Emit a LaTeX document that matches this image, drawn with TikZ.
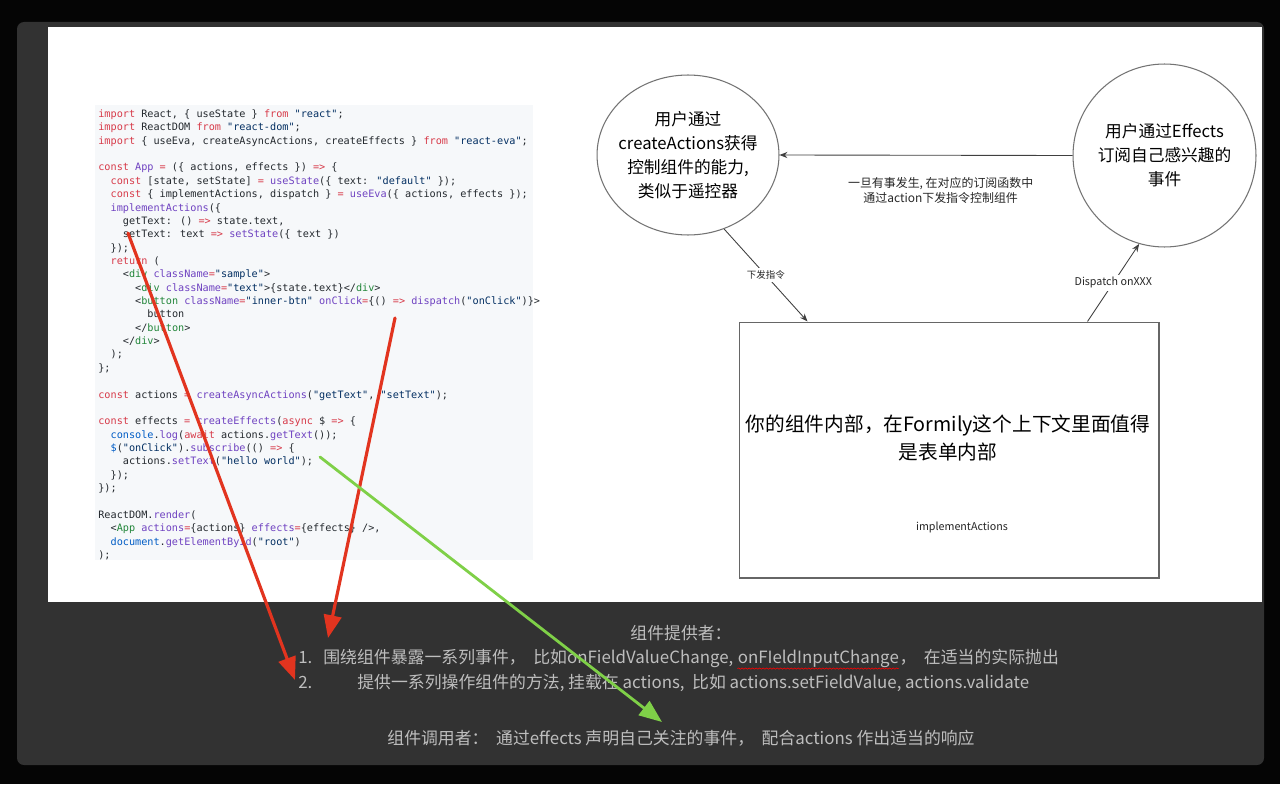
\documentclass[tikz,border=0pt]{standalone}
\usepackage{fontspec}
\setmainfont{Noto Sans CJK SC}
\newfontfamily\codefont{DejaVu Sans Mono}
\usetikzlibrary{arrows.meta,shapes.geometric,calc,decorations.pathmorphing}
\definecolor{panelcol}{HTML}{323232}
\definecolor{notecol}{HTML}{BEBEBE}
\definecolor{codebg}{HTML}{F6F8FA}
\definecolor{plaincol}{HTML}{24292E}
\definecolor{kwcol}{HTML}{D73A49}
\definecolor{fncol}{HTML}{6F42C1}
\definecolor{strcol}{HTML}{032F62}
\definecolor{tagcol}{HTML}{22863A}
\definecolor{objcol}{HTML}{005CC5}
\definecolor{markred}{HTML}{E2341F}
\definecolor{markgreen}{HTML}{7FD048}
\newcommand\ckw[1]{\textcolor{kwcol}{#1}}
\newcommand\cfn[1]{\textcolor{fncol}{#1}}
\newcommand\cstr[1]{\textcolor{strcol}{#1}}
\newcommand\ctag[1]{\textcolor{tagcol}{#1}}
\newcommand\cobj[1]{\textcolor{objcol}{#1}}
\newcommand\codeline[3]{\node[codetxt] (cl#1) at ({98+#2*6.14},{117.5+#1*13.36}) {#3};}
\tikzset{
  codetxt/.style={anchor=base west,inner sep=0,text=plaincol,font=\codefont\fontsize{5.8}{7}\selectfont},
  bubble/.style={draw=black!55,line width=.6pt,inner sep=0},
  bubtxt/.style={align=center,inner sep=0,font=\fontsize{9.5}{13.6}\selectfont},
  lbl/.style={inner sep=1.5pt,fill=white,text=black!85,font=\fontsize{6.1}{8.5}\selectfont},
  conn/.style={draw=black!75,line width=.5pt,-{Stealth[length=4.5pt,width=3.5pt]}},
  note/.style={inner sep=0,text=notecol,font=\fontsize{9.6}{11}\selectfont},
  redmark/.style={draw=markred,line width=1.8pt,line cap=round,-{Triangle[length=13pt,width=10pt]}},
  greenmark/.style={draw=markgreen,line width=1.6pt,line cap=round,-{Triangle[length=13pt,width=10pt]}},
  spell/.style={draw=red,line width=.35pt,decorate,decoration={snake,amplitude=.35pt,segment length=2pt}}
}
\begin{document}
\begin{tikzpicture}[x=0.02cm,y=-0.02cm]
\useasboundingbox (0,0) rectangle (1280,784);
\fill[black!98] (0,0) rectangle (1280,784);
\fill[panelcol,rounded corners=4pt] (17,22) rectangle (1264,765);
\fill[white] (48,27) rectangle (1262,602);
\fill[codebg] (95,105) rectangle (533,560);

\codeline{0}{0}{\ckw{import} React, \{ useState \} \ckw{from} \cstr{"react"};}
\codeline{1}{0}{\ckw{import} ReactDOM \ckw{from} \cstr{"react-dom"};}
\codeline{2}{0}{\ckw{import} \{ useEva, createAsyncActions, createEffects \} \ckw{from} \cstr{"react-eva"};}
\codeline{4}{0}{\ckw{const} \cfn{App} \ckw{=} (\{ actions, effects \}) \ckw{=>} \{}
\codeline{5}{2}{\ckw{const} [state, setState] \ckw{=} \cfn{useState}(\{ text: \cstr{"default"} \});}
\codeline{6}{2}{\ckw{const} \{ implementActions, dispatch \} \ckw{=} \cfn{useEva}(\{ actions, effects \});}
\codeline{7}{2}{\cfn{implementActions}(\{}
\codeline{8}{4}{getText: () \ckw{=>} state.text,}
\codeline{9}{4}{setText: text \ckw{=>} \cfn{setState}(\{ text \})}
\codeline{10}{2}{\});}
\codeline{11}{2}{\ckw{return} (}
\codeline{12}{4}{<\ctag{div} \cfn{className}\ckw{=}\cstr{"sample"}>}
\codeline{13}{6}{<\ctag{div} \cfn{className}\ckw{=}\cstr{"text"}>\{state.text\}</\ctag{div}>}
\codeline{14}{6}{<\ctag{button} \cfn{className}\ckw{=}\cstr{"inner-btn"} \cfn{onClick}\ckw{=}\{() \ckw{=>} \cfn{dispatch}(\cstr{"onClick"})\}>}
\codeline{15}{8}{button}
\codeline{16}{6}{</\ctag{button}>}
\codeline{17}{4}{</\ctag{div}>}
\codeline{18}{2}{);}
\codeline{19}{0}{\};}
\codeline{21}{0}{\ckw{const} actions \ckw{=} \cfn{createAsyncActions}(\cstr{"getText"}, \cstr{"setText"});}
\codeline{23}{0}{\ckw{const} effects \ckw{=} \cfn{createEffects}(\ckw{async} \$ \ckw{=>} \{}
\codeline{24}{2}{\cobj{console}.\cfn{log}(\ckw{await} actions.\cfn{getText}());}
\codeline{25}{2}{\cobj{\$}(\cstr{"onClick"}).\cfn{subscribe}(() \ckw{=>} \{}
\codeline{26}{4}{actions.\cfn{setText}(\cstr{"hello world"});}
\codeline{27}{2}{\});}
\codeline{28}{0}{\});}
\codeline{30}{0}{ReactDOM.\cfn{render}(}
\codeline{31}{2}{<\ctag{App} \cfn{actions}\ckw{=}\{actions\} \cfn{effects}\ckw{=}\{effects\} />,}
\codeline{32}{2}{\cobj{document}.\cfn{getElementById}(\cstr{"root"})}
\codeline{33}{0}{);}

\node[bubble,ellipse,minimum width=3.64cm,minimum height=3.2cm] (lc) at (688,155) {};
\node[bubtxt] (lctxt) at (lc) {用户通过\\createActions获得\\控制组件的能力,\\类似于遥控器};
\node[bubble,circle,minimum size=3.66cm] (rc) at (1164.5,155.5) {};
\node[bubtxt] (rctxt) at (rc) {用户通过Effects\\订阅自己感兴趣的\\事件};
\node[draw=black!60,line width=.6pt,minimum width=8.4cm,minimum height=5.12cm] (box) at (949,450) {};
\node[align=center,inner sep=0,font=\fontsize{11.2}{15.9}\selectfont] (boxtxt) at (948,438) {你的组件内部，在Formily这个上下文里面值得\\是表单内部};
\node[lbl,fill=none] (impl) at (962,527) {implementActions};

\draw[conn] (rc.west) -- node[lbl,pos=.45,below=0.38cm,align=center,font=\fontsize{6.8}{8.5}\selectfont] (sub) {一旦有事发生, 在对应的订阅函数中\\通过action下发指令控制组件} (lc.east);
\draw[conn] (lc.-64) -- node[lbl,font=\fontsize{5.4}{7}\selectfont] (cmd) {下发指令} ($(box.north west)+(69,0)$);
\draw[conn] ($(box.north east)+(-72,0)$) -- node[lbl] (disp) {Dispatch onXXX} (rc.-106);

\node[note] (prov) at (681,633) {组件提供者：};
\node[note,anchor=base west] (n1) at (298,663) {1.};
\node[note,anchor=base west] (p1a) at (323,663) {围绕组件暴露一系列事件，\ \ 比如onFieldValueChange,\ \null};
\node[note,anchor=base west] (p1b) at (p1a.base east) {onFIeldInputChange};
\node[note,anchor=base west] (p1c) at (p1b.base east) {，\ \ 在适当的实际抛出};
\draw[spell] ($(p1b.south west)+(0,1)$) -- ($(p1b.south east)+(0,1)$);
\node[note,anchor=base west] (n2) at (298,688) {2.};
\node[note,anchor=base west] (p2) at (357,688) {提供一系列操作组件的方法, 挂载在 actions,\ \ 比如 actions.setFieldValue, actions.validate};
\node[note] (user) at (681,738) {组件调用者：\ \ 通过effects 声明自己关注的事件，\ \ 配合actions 作出适当的响应};

\coordinate (r1a) at (128,233);
\coordinate (r1b) at (295,680);
\coordinate (r2a) at (395,318);
\coordinate (r2b) at (328,638);
\coordinate (g1a) at (320,457);
\coordinate (g1b) at (662,722);
\draw[redmark] (r1a) -- (r1b);
\draw[redmark] (r2a) -- (r2b);
\draw[greenmark] (g1a) -- (g1b);
\end{tikzpicture}
\end{document}
